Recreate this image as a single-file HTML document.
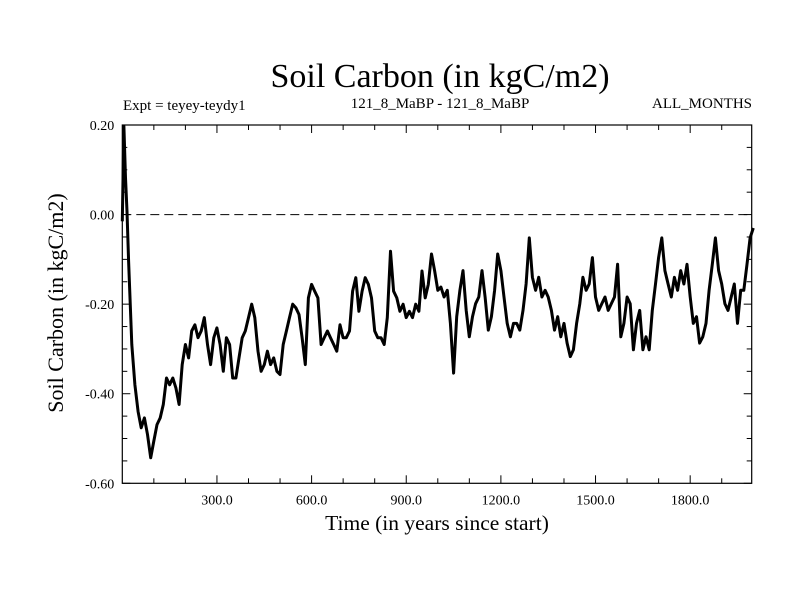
<!DOCTYPE html>
<html><head><meta charset="utf-8"><style>
body{margin:0;background:#fff}
svg text{font-family:"Liberation Serif",serif;fill:#000}
</style></head><body>
<svg width="800" height="600" viewBox="0 0 800 600" id="chart">
<rect width="800" height="600" fill="#fff"/>
<text x="440" y="87" font-size="34" text-anchor="middle">Soil Carbon (in kgC/m2)</text>
<text x="123" y="110" font-size="15">Expt = teyey-teydy1</text>
<text x="440" y="108" font-size="15" text-anchor="middle">121_8_MaBP - 121_8_MaBP</text>
<text x="752" y="108" font-size="15" text-anchor="end">ALL_MONTHS</text>
<text x="437" y="530" font-size="21.5" text-anchor="middle">Time (in years since start)</text>
<text transform="translate(63,303) rotate(-90)" font-size="22" text-anchor="middle">Soil Carbon (in kgC/m2)</text>
<g id="axes"></g>
<g id="series"></g>
</svg>
<script>
const years=[0,5,10,15,20,30,40,50,60,70,80,90,100,110,120,130,140,150,160,170,180,190,200,210,220,230,240,250,260,270,280,290,300,310,320,330,340,350,360,370,380,390,400,410,420,430,440,450,460,470,480,490,500,510,520,530,540,550,560,570,580,590,600,610,620,630,640,650,660,670,680,690,700,710,720,730,740,750,760,770,780,790,800,810,820,830,840,850,860,870,880,890,900,910,920,930,940,950,960,970,980,990,1000,1010,1020,1030,1040,1050,1060,1070,1080,1090,1100,1110,1120,1130,1140,1150,1160,1170,1180,1190,1200,1210,1220,1230,1240,1250,1260,1270,1280,1290,1300,1310,1320,1330,1340,1350,1360,1370,1380,1390,1400,1410,1420,1430,1440,1450,1460,1470,1480,1490,1500,1510,1520,1530,1540,1550,1560,1570,1580,1590,1600,1610,1620,1630,1640,1650,1660,1670,1680,1690,1700,1710,1720,1730,1740,1750,1760,1770,1780,1790,1800,1810,1820,1830,1840,1850,1860,1870,1880,1890,1900,1910,1920,1930,1940,1950,1960,1970,1980,1990,2000];
const soilCarbon=[-0.015,0.197,0.082,0.007,-0.104,-0.29,-0.38,-0.44,-0.476,-0.454,-0.491,-0.543,-0.506,-0.469,-0.454,-0.424,-0.365,-0.38,-0.365,-0.387,-0.424,-0.335,-0.29,-0.32,-0.26,-0.246,-0.275,-0.26,-0.23,-0.29,-0.335,-0.275,-0.253,-0.29,-0.35,-0.275,-0.29,-0.365,-0.365,-0.32,-0.275,-0.26,-0.23,-0.2,-0.23,-0.305,-0.35,-0.335,-0.305,-0.335,-0.32,-0.35,-0.357,-0.29,-0.26,-0.23,-0.2,-0.208,-0.223,-0.275,-0.335,-0.186,-0.156,-0.171,-0.186,-0.29,-0.275,-0.26,-0.275,-0.29,-0.305,-0.246,-0.275,-0.275,-0.26,-0.171,-0.141,-0.216,-0.171,-0.141,-0.156,-0.186,-0.26,-0.275,-0.275,-0.29,-0.23,-0.082,-0.171,-0.186,-0.216,-0.2,-0.23,-0.216,-0.23,-0.2,-0.216,-0.126,-0.186,-0.156,-0.088,-0.125,-0.169,-0.162,-0.184,-0.169,-0.243,-0.354,-0.228,-0.169,-0.125,-0.214,-0.273,-0.228,-0.199,-0.184,-0.125,-0.184,-0.258,-0.228,-0.169,-0.088,-0.125,-0.184,-0.243,-0.273,-0.243,-0.243,-0.258,-0.214,-0.155,-0.052,-0.14,-0.169,-0.14,-0.184,-0.169,-0.184,-0.214,-0.258,-0.228,-0.273,-0.243,-0.287,-0.317,-0.302,-0.243,-0.199,-0.14,-0.169,-0.155,-0.096,-0.184,-0.214,-0.199,-0.184,-0.214,-0.199,-0.184,-0.111,-0.273,-0.243,-0.184,-0.199,-0.302,-0.243,-0.214,-0.302,-0.273,-0.302,-0.214,-0.155,-0.096,-0.052,-0.125,-0.155,-0.184,-0.14,-0.169,-0.125,-0.155,-0.111,-0.184,-0.243,-0.228,-0.287,-0.273,-0.243,-0.169,-0.111,-0.052,-0.125,-0.155,-0.199,-0.214,-0.184,-0.155,-0.243,-0.169,-0.169,-0.111,-0.052,-0.03];
const xTickValues=[300,600,900,1200,1500,1800];
const xTickLabels=["300.0","600.0","900.0","1200.0","1500.0","1800.0"];
const yTickValues=[0.2,0,-0.2,-0.4,-0.6];
const yTickLabels=["0.20","0.00","-0.20","-0.40","-0.60"];

const L=122.3,R=751.7,T=125,B=483.3,X0=0,X1=1995,Y0=-0.6,Y1=0.2;
const NS="http://www.w3.org/2000/svg";
function xs(v){return L+(v-X0)/(X1-X0)*(R-L);}
function ys(v){return B-(v-Y0)/(Y1-Y0)*(B-T);}
function mk(tag,attrs,parent){const e=document.createElementNS(NS,tag);for(const k in attrs)e.setAttribute(k,attrs[k]);parent.appendChild(e);return e;}
const ax=document.getElementById('axes');
const frame=mk('rect',{x:L,y:T,width:R-L,height:B-T,fill:'none',stroke:'#000','stroke-width':1.2},ax);


const zl=mk('line',{x1:L,x2:R,y1:ys(0),y2:ys(0),stroke:'#000','stroke-width':1,'stroke-dasharray':'9,5'},ax);


for(let v=100;v<X1;v+=100){const maj=v%300===0;const len=maj?8:5;
 mk('line',{x1:xs(v),x2:xs(v),y1:B,y2:B-len,stroke:'#000'},ax);
 mk('line',{x1:xs(v),x2:xs(v),y1:T,y2:T+len,stroke:'#000'},ax);}
for(let i=0;i<=16;i++){const v=Y0+i*0.05;const maj=i%4===0;const len=maj?8:5;
 mk('line',{x1:L,x2:L+len,y1:ys(v),y2:ys(v),stroke:'#000'},ax);
 mk('line',{x1:R,x2:R-len,y1:ys(v),y2:ys(v),stroke:'#000'},ax);}
xTickValues.forEach((v,i)=>{const t=mk('text',{x:xs(v),y:B+21,'font-size':14,'text-anchor':'middle'},ax);t.textContent=xTickLabels[i];
 
 });
yTickValues.forEach((v,i)=>{const t=mk('text',{x:L-8,y:ys(v)+5,'font-size':14,'text-anchor':'end'},ax);t.textContent=yTickLabels[i];
 
 });
const d=years.map((yr,i)=>(i?'L':'M')+xs(yr).toFixed(1)+','+ys(soilCarbon[i]).toFixed(1)).join('');
const p=mk('path',{d:d,fill:'none',stroke:'#000','stroke-width':3,'stroke-linejoin':'round'},document.getElementById('series'));


</script>
</body></html>
